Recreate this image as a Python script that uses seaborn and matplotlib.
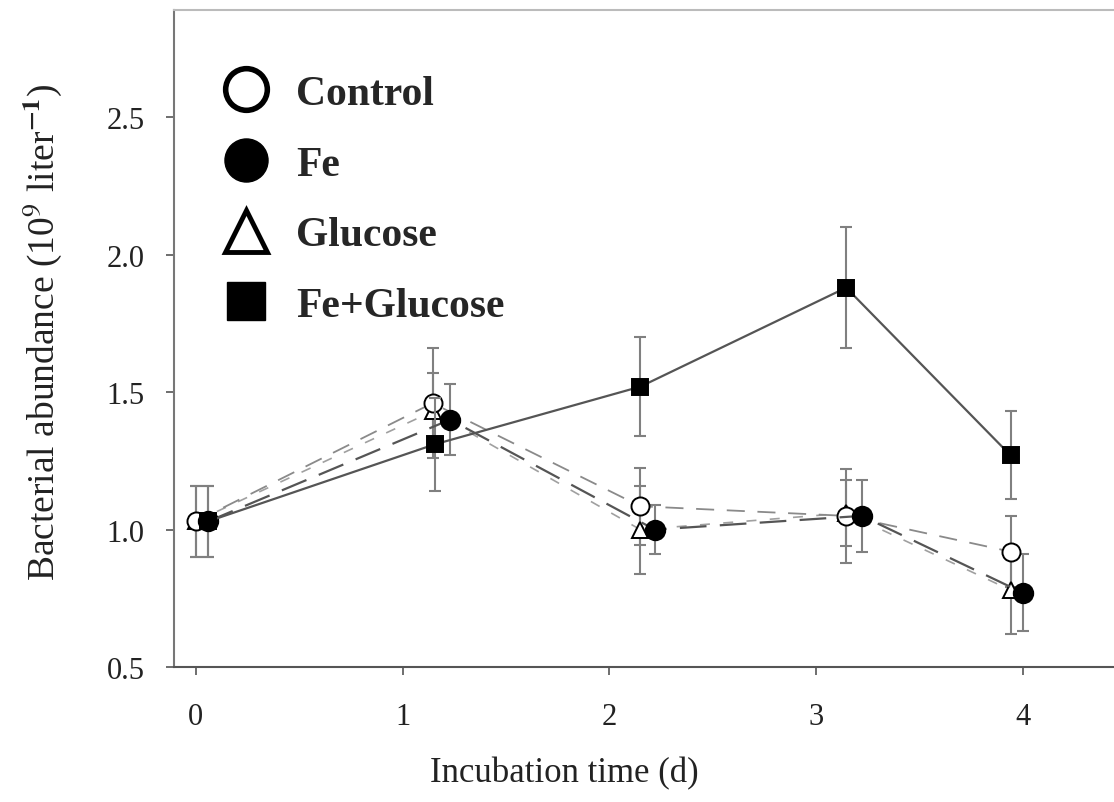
import matplotlib
matplotlib.use("Agg")
import matplotlib.pyplot as plt
from matplotlib.lines import Line2D
import numpy as np
import pandas as pd
import seaborn as sns

# Treatments and their plotted day positions (points are staggered slightly per treatment)
treatments = ["Control", "Fe", "Glucose", "Fe+Glucose"]

control_day = [0.00, 1.145, 2.15, 3.145, 3.94]
control_mean = [1.03, 1.46, 1.085, 1.05, 0.92]
control_err = [0.13, 0.20, 0.14, 0.17, 0.13]

fe_day = [0.06, 1.23, 2.22, 3.22, 4.00]
fe_mean = [1.03, 1.40, 1.00, 1.05, 0.77]
fe_err = [0.13, 0.13, 0.09, 0.13, 0.14]

glucose_day = [0.00, 1.145, 2.15, 3.145, 3.94]
glucose_mean = [1.03, 1.43, 1.00, 1.06, 0.78]
glucose_err = [0.13, 0.14, 0.16, 0.12, 0.16]

fegluc_day = [0.06, 1.155, 2.15, 3.145, 3.94]
fegluc_mean = [1.03, 1.31, 1.52, 1.88, 1.27]
fegluc_err = [0.13, 0.17, 0.18, 0.22, 0.16]

x_ticks = [0, 1, 2, 3, 4]
y_ticks = [0.5, 1.0, 1.5, 2.0, 2.5]

sns.set_theme(style="white")
plt.rcParams["font.family"] = ["Liberation Serif", "DejaVu Serif"]
plt.rcParams["mathtext.fontset"] = "stix"

frames = []
for name, d, m, e in [
    ("Control", control_day, control_mean, control_err),
    ("Fe", fe_day, fe_mean, fe_err),
    ("Glucose", glucose_day, glucose_mean, glucose_err),
    ("Fe+Glucose", fegluc_day, fegluc_mean, fegluc_err),
]:
    frames.append(pd.DataFrame({"treatment": name, "day": d, "abundance": m, "err": e}))
df = pd.concat(frames, ignore_index=True)

styles = {
    "Control": dict(marker="o", mfc="white", ms=13, ls=(0, (10, 7)), lc="#8a8a8a", lw=1.3, z=4),
    "Fe": dict(marker="o", mfc="black", ms=14, ls=(0, (12, 6)), lc="#555555", lw=1.6, z=5),
    "Glucose": dict(marker="^", mfc="white", ms=12, ls=(0, (6, 8)), lc="#a0a0a0", lw=1.2, z=3),
    "Fe+Glucose": dict(marker="s", mfc="black", ms=11, ls="-", lc="#555555", lw=1.6, z=6),
}

fig = plt.figure(figsize=(11.14, 8.03), dpi=100)
ax = fig.add_axes([0.156, 0.168, 0.844, 0.818])

for name in treatments:
    sub = df[df["treatment"] == name]
    st = styles[name]
    ax.errorbar(sub["day"], sub["abundance"], yerr=sub["err"], fmt="none",
                ecolor="#808080", elinewidth=1.5, capsize=4.5, capthick=1.5,
                zorder=st["z"] - 2)
    sns.lineplot(data=sub, x="day", y="abundance", ax=ax, color=st["lc"],
                 linewidth=st["lw"], linestyle=st["ls"], marker=st["marker"],
                 markersize=st["ms"], markerfacecolor=st["mfc"],
                 markeredgecolor="black", markeredgewidth=1.4,
                 zorder=st["z"], legend=False)

ax.set_xlim(-0.106, 4.44)
ax.set_ylim(0.5, 2.889)
ax.set_xticks(x_ticks)
ax.set_xticklabels([str(t) for t in x_ticks])
ax.set_yticks(y_ticks)
ax.set_yticklabels([f"{t:.1f}" for t in y_ticks])

ax.tick_params(axis="both", which="both", direction="out", length=6, width=1.2,
               color="#555555", labelsize=22, labelcolor="#222222",
               bottom=True, left=True)
ax.tick_params(axis="x", pad=19)
ax.tick_params(axis="y", pad=15)

for side in ["left", "bottom", "top"]:
    ax.spines[side].set_visible(True)
    ax.spines[side].set_linewidth(1.5)
ax.spines["left"].set_color("#777777")
ax.spines["bottom"].set_color("#555555")
ax.spines["top"].set_color("#bbbbbb")
ax.spines["right"].set_visible(False)

ax.set_xlabel("Incubation time (d)", fontsize=25, color="#222222")
ax.xaxis.set_label_coords(0.415, -0.135)
ax.set_ylabel(r"Bacterial abundance (10$^{9}$ liter$^{\mathbf{-1}}$)", fontsize=27,
              color="#222222")
ax.yaxis.set_label_coords(-0.117, 0.512)

handles = [
    Line2D([], [], ls="none", marker="o", ms=30, mfc="white", mec="black", mew=4),
    Line2D([], [], ls="none", marker="o", ms=31, mfc="black", mec="black", mew=1),
    Line2D([], [], ls="none", marker="^", ms=30, mfc="white", mec="black", mew=3.5),
    Line2D([], [], ls="none", marker="s", ms=28, mfc="black", mec="black", mew=1),
]
leg = ax.legend(handles, treatments, loc="upper left", bbox_to_anchor=(0.035, 0.927),
                frameon=False, handlelength=1.1, handletextpad=0.65, labelspacing=0.78,
                borderaxespad=0, prop={"family": "Liberation Serif", "weight": "bold", "size": 30})

fig.savefig("out.png", dpi=100)
